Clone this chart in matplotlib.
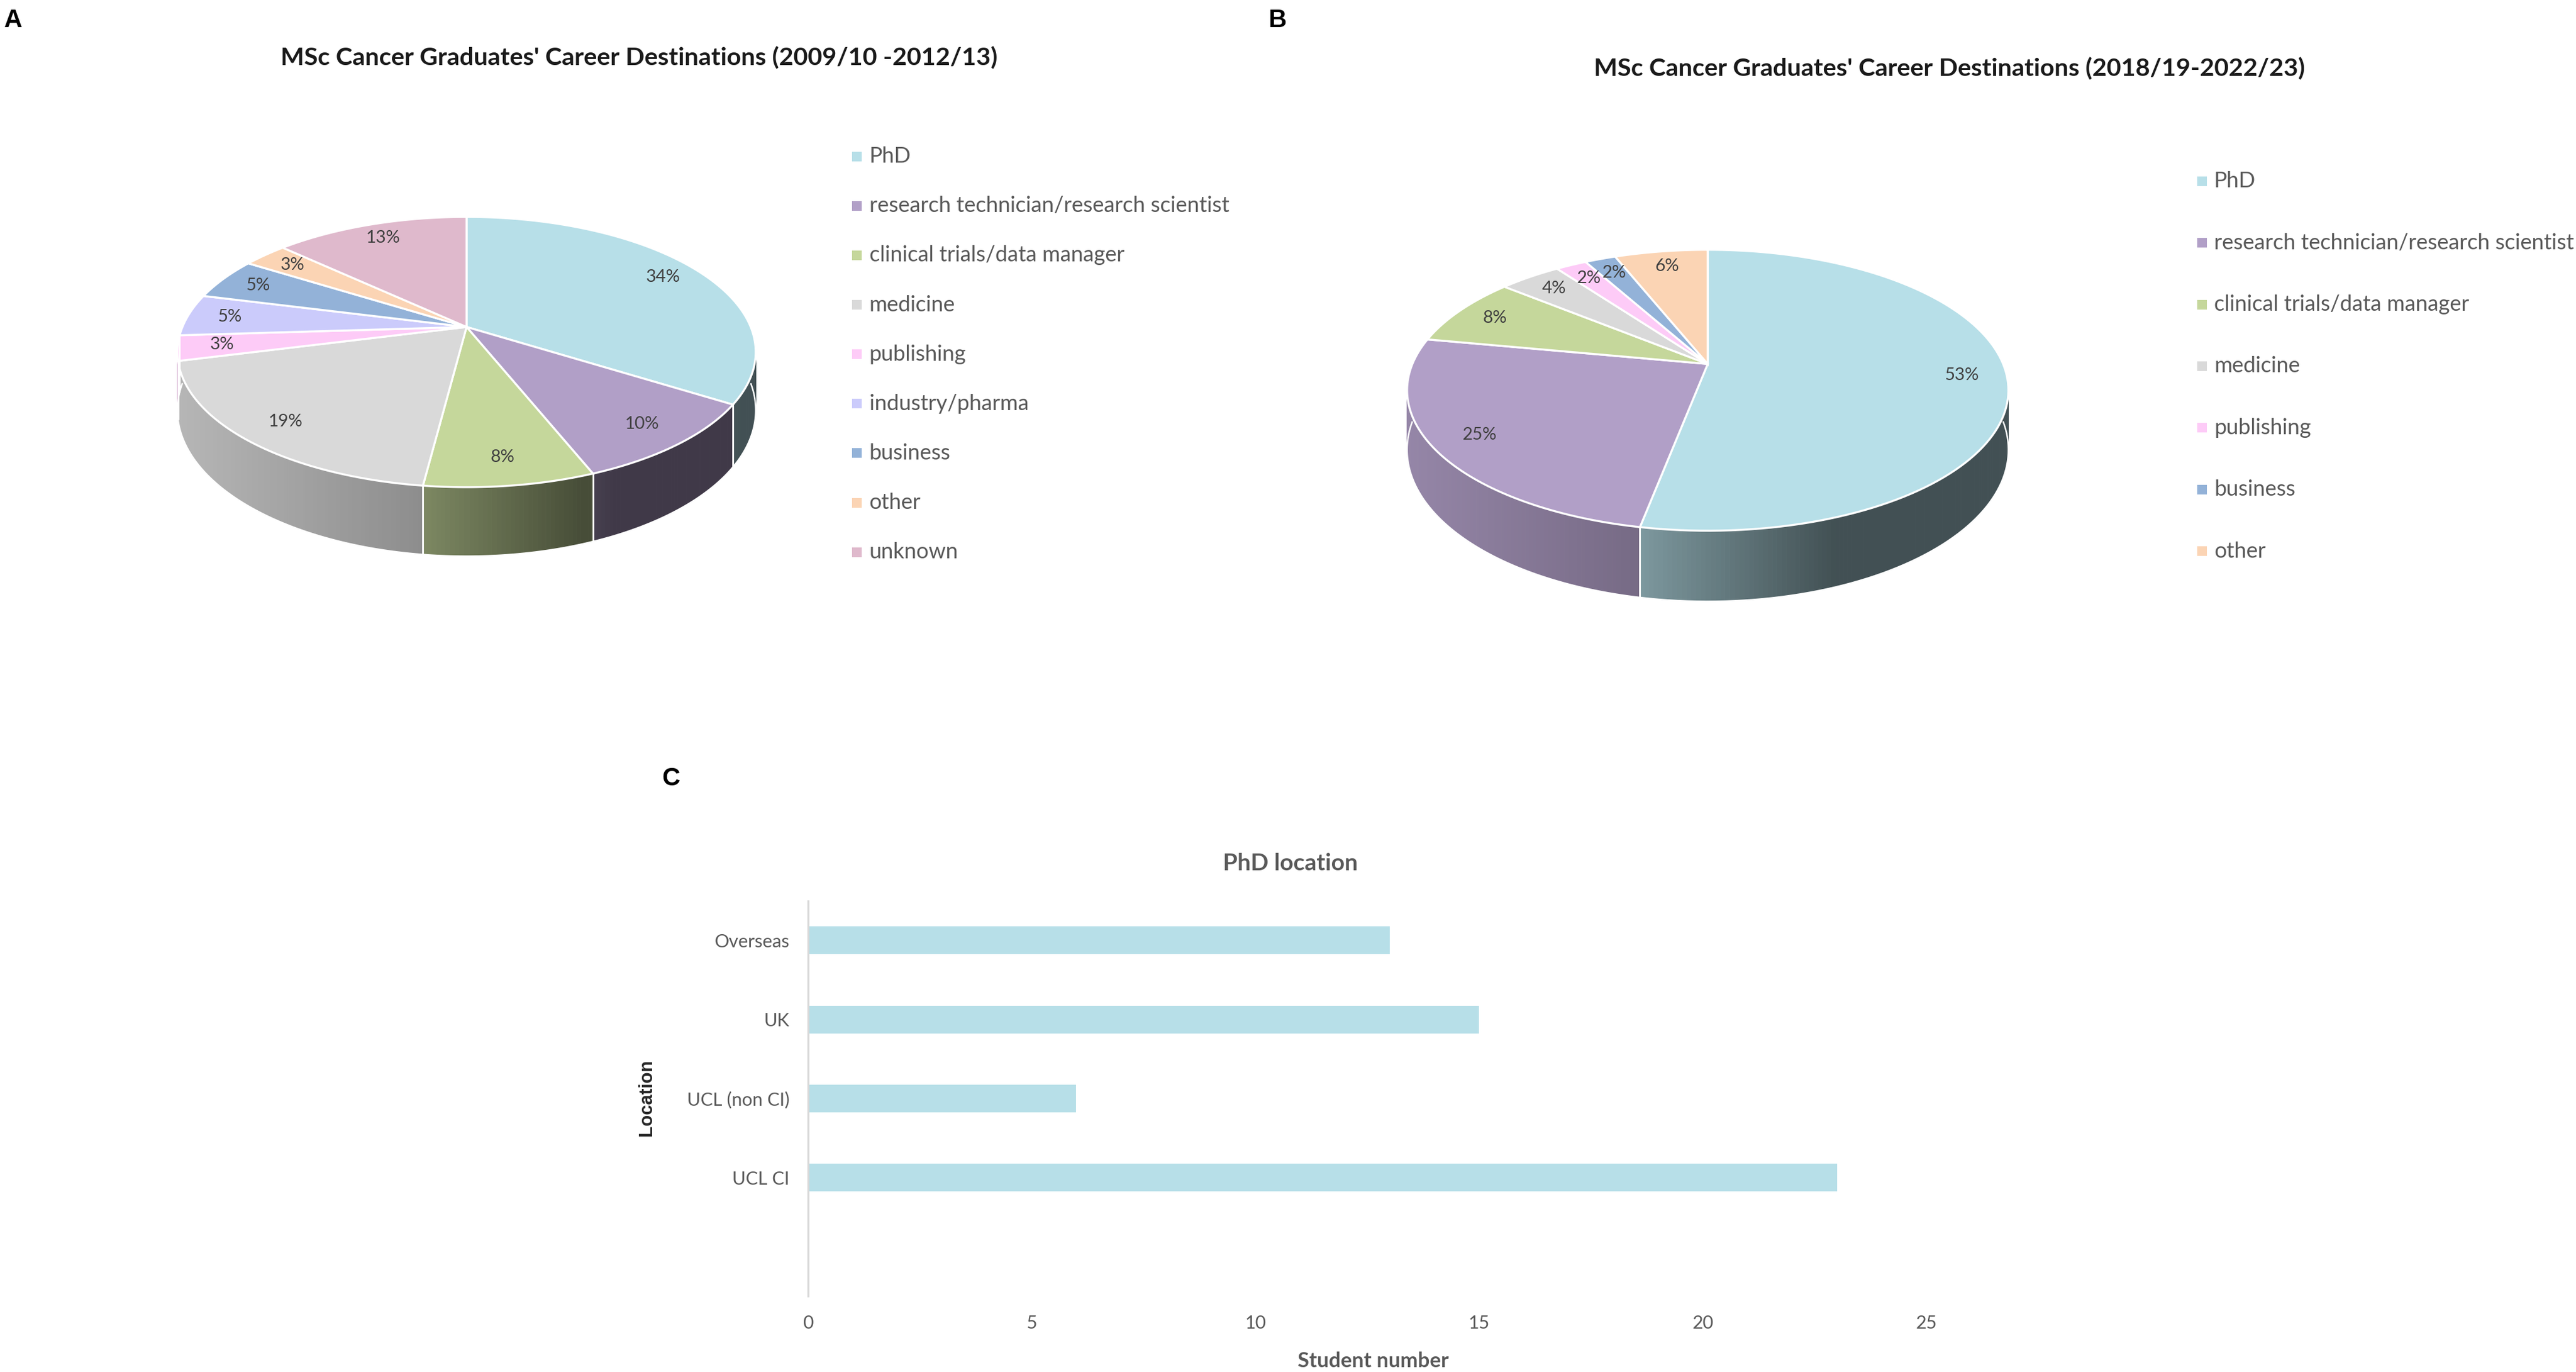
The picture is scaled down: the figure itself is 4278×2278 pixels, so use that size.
import numpy as np
import matplotlib
matplotlib.use('Agg')
import matplotlib.pyplot as plt
from matplotlib.patches import Polygon
from matplotlib.colors import to_rgb

plt.rcParams['font.family'] = ['Lato', 'DejaVu Sans']

#%% Data
cats_a = ['PhD', 'research technician/research scientist', 'clinical trials/data manager',
          'medicine', 'publishing', 'industry/pharma', 'business', 'other', 'unknown']
pct_a = [34, 10, 8, 19, 3, 5, 5, 3, 13]

cats_b = ['PhD', 'research technician/research scientist', 'clinical trials/data manager',
          'medicine', 'publishing', 'business', 'other']
pct_b = [53, 25, 8, 4, 2, 2, 6]

colour_of = {'PhD': '#b7dfe8',
             'research technician/research scientist': '#b19fc7',
             'clinical trials/data manager': '#c5d79b',
             'medicine': '#d9d9d9',
             'publishing': '#fdcbf7',
             'industry/pharma': '#cbcbfb',
             'business': '#93b2d8',
             'other': '#fbd4b4',
             'unknown': '#dfb9cc'}

loc_names = ['UCL CI', 'UCL (non CI)', 'UK', 'Overseas']
loc_counts = [23, 6, 15, 13]

title_a = "MSc Cancer Graduates' Career Destinations (2009/10 -2012/13)"
title_b = "MSc Cancer Graduates' Career Destinations (2018/19-2022/23)"

W, H = 1568.0, 835.0   # layout units (reference pixels / 2.728)
GREY = '#595959'

fig = plt.figure(figsize=(21.39, 11.39), dpi=200)
ax0 = fig.add_axes([0, 0, 1, 1])
ax0.set_xlim(0, W)
ax0.set_ylim(H, 0)
ax0.axis('off')


#%% 3D pie (perspective view of a tilted cylinder)
def pie3d(ax, vals, cols, cx, cy, rx, up, down, depth, rlab=0.85):
    k = (down - up) / (down + up)
    b = up * (1 + k)
    a = rx * np.sqrt(1 - k * k)

    def P(th, r=1.0, z=0.0):
        x = r * np.cos(th)
        y = r * np.sin(th)
        s = 1 + k * y
        return cx + a * x / s, cy - b * y / s + z * depth * (1 - k) / s

    fr = np.array(vals, float) / np.sum(vals)
    edges = np.deg2rad(90 - 360 * np.concatenate([[0], np.cumsum(fr)]))

    strips = []
    lines = []
    for i in range(len(vals)):
        t1, t2 = edges[i], edges[i + 1]
        lo, hi = max(t2, -np.pi), min(t1, 0.0)
        if hi <= lo:
            continue
        base = np.array(to_rgb(cols[i]))
        n = max(3, int((hi - lo) / np.pi * 240))
        ph = np.linspace(lo, hi, n + 1)
        # shading: light on the left, darker towards the right
        u_s = (P(lo)[0] - (cx - rx)) / (2 * rx)
        f0 = np.interp(u_s, [0, 0.3, 0.45, 0.7, 1], [0.84, 0.8, 0.6, 0.4, 0.37])
        rate = 0.45 if u_s < 0.3 else 1.0
        for j in range(n):
            pa, pb = ph[j], ph[j + 1]
            m = 0.5 * (pa + pb)
            u = (P(m)[0] - (cx - rx)) / (2 * rx)
            f = max(0.36, f0 - rate * (u - u_s))
            xa, ya = P(pa)
            xb, yb = P(pb)
            xa2, ya2 = P(pa, z=1)
            xb2, yb2 = P(pb, z=1)
            strips.append((np.sin(m), [(xa, ya), (xb, yb), (xb2, yb2), (xa2, ya2)], base * f))
        bx, by = P(ph, z=1)
        lines.append((bx, by))
        for e in (t1, t2):
            if -np.pi < e < 0:
                x0, y0 = P(e)
                x1, y1 = P(e, z=1)
                lines.append(([x0, x1], [y0, y1]))

    strips.sort(key=lambda s: -s[0])
    for _, pts, c in strips:
        ax.add_patch(Polygon(pts, closed=True, fc=c, ec=c, lw=0.4))
    for lx, ly in lines:
        ax.plot(lx, ly, color='white', lw=0.9, solid_capstyle='butt')

    # top face
    for i in range(len(vals)):
        th = np.linspace(edges[i], edges[i + 1], 120)
        xs, ys = P(th)
        pts = [(cx, cy)] + list(zip(xs, ys))
        ax.add_patch(Polygon(pts, closed=True, fc=cols[i], ec='white', lw=1.2))

    # data labels
    for i in range(len(vals)):
        mid = 0.5 * (edges[i] + edges[i + 1])
        lx, ly = P(mid, r=rlab)
        ax.text(lx, ly, '%d%%' % vals[i], ha='center', va='center',
                fontsize=10.5, color='#404040')


def legend_block(ax, cats, x, y0, dy):
    for i, c in enumerate(cats):
        yy = y0 + i * dy
        ax.scatter([x], [yy], marker='s', s=32, color=colour_of[c], linewidths=0)
        ax.text(x + 7.5, yy, c, ha='left', va='center', fontsize=13, color=GREY)


#%% Panel A
cols_a = [colour_of[c] for c in cats_a]
pie3d(ax0, pct_a, cols_a, 284, 199, 176, 67, 97.5, 42)
legend_block(ax0, cats_a, 521.6, 95.2, 30.1)
ax0.text(389, 35.3, title_a, ha='center', va='center', fontsize=14.9,
         fontweight='bold', color='#1a1a1a')
ax0.text(2.5, 5, 'A', ha='left', va='top', fontsize=15, fontweight='bold',
         family='Liberation Sans', color='black')

#%% Panel B
cols_b = [colour_of[c] for c in cats_b]
pie3d(ax0, pct_b, cols_b, 1039.5, 221.5, 183, 69.5, 101.5, 43)
legend_block(ax0, cats_b, 1340.3, 110.2, 37.55)
ax0.text(1186.6, 41.9, title_b, ha='center', va='center', fontsize=14.9,
         fontweight='bold', color='#1a1a1a')
ax0.text(772, 5, 'B', ha='left', va='top', fontsize=15, fontweight='bold',
         family='Liberation Sans', color='black')

#%% Panel C
ax0.text(403, 466.5, 'C', ha='left', va='top', fontsize=15, fontweight='bold',
         family='Liberation Sans', color='black')
ax0.text(785.5, 525.5, 'PhD location', ha='center', va='center', fontsize=14,
         fontweight='bold', color=GREY)
ax0.text(835.7, 828.5, 'Student number', ha='center', va='center', fontsize=12.5,
         fontweight='bold', color=GREY)
ax0.text(393.6, 668, 'Location', ha='center', va='center', rotation=90, fontsize=11,
         fontweight='bold', family='Liberation Sans', color='#262626')

axc = fig.add_axes([491.7 / W, 1 - 788.8 / H, (1172.7 - 491.7) / W, (788.8 - 548.3) / H])
pos = np.arange(len(loc_names))
axc.barh(pos, loc_counts, height=0.35, color='#b7dfe8')
axc.set_ylim(-1.5, 3.5)
axc.set_xlim(0, 25)
axc.set_xticks(np.arange(0, 26, 5))
axc.set_yticks(pos)
axc.set_yticklabels(loc_names)
for s in ['top', 'right', 'bottom']:
    axc.spines[s].set_visible(False)
axc.spines['left'].set_color('#d9d9d9')
axc.spines['left'].set_linewidth(1.2)
axc.tick_params(axis='both', length=0, labelsize=11, labelcolor=GREY)
axc.tick_params(axis='x', pad=11)
axc.tick_params(axis='y', pad=11)
axc.set_facecolor('none')

fig.savefig('out.png', dpi=200)
